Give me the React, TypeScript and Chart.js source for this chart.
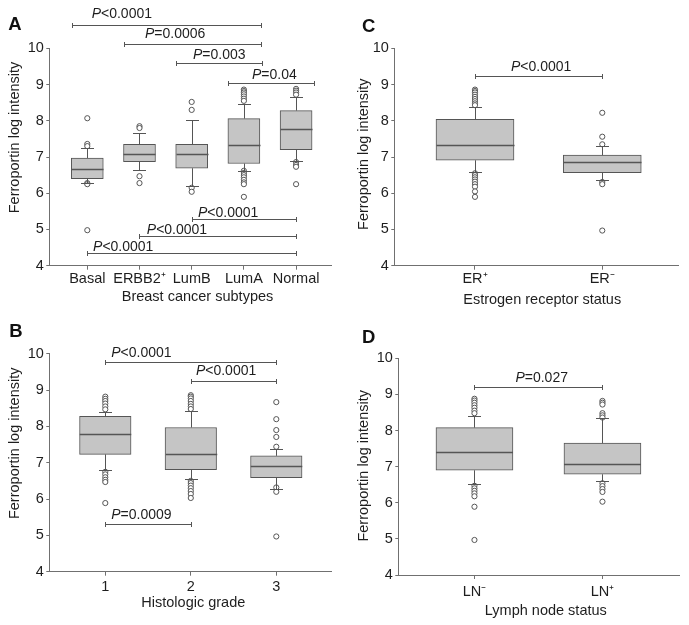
import React, { useEffect, useRef } from 'react';
import { Chart, registerables } from 'chart.js';

Chart.register(...registerables);

const FONT = "'Liberation Sans', Arial, Helvetica, sans-serif";
const TEXT = '#1e1e1e';
const LINE = '#555555';
const AXIS = '#707070';
const FILL = '#c5c5c5';

// ---------- Panel A: breast cancer subtypes ----------
const subtypeCategories = ['Basal', 'ERBB2⁺', 'LumB', 'LumA', 'Normal'];
const subtypeQ1 = [6.40, 6.87, 6.69, 6.82, 7.20];
const subtypeMedian = [6.66, 7.09, 7.08, 7.32, 7.78];
const subtypeQ3 = [6.97, 7.35, 7.35, 8.06, 8.28];
const subtypeWhiskerLow = [6.29, 6.63, 6.19, 6.61, 6.88];
const subtypeWhiskerHigh = [7.25, 7.67, 8.01, 8.47, 8.66];
const subtypeOutliers = [
  [8.07, 7.36, 7.30, 6.28, 6.25, 4.98],
  [7.85, 7.80, 6.47, 6.28],
  [8.52, 8.30, 6.15, 6.04],
  [8.86, 8.82, 8.78, 8.73, 8.67, 8.61, 8.55, 6.62, 6.56, 6.50, 6.44, 6.37, 6.30, 6.25, 5.90],
  [8.88, 8.83, 8.78, 8.72, 6.86, 6.78, 6.73, 6.25],
];
const subtypePValues = ['<0.0001', '=0.0006', '=0.003', '=0.04', '<0.0001', '<0.0001', '<0.0001'];
const subtypeBarFrom = [0.70, 1.70, 2.70, 3.70, 3, 2, 1];
const subtypeBarTo = [4.32, 4.33, 4.34, 5.34, 5, 5, 5];
const subtypeBarY = [10.64, 10.11, 9.59, 9.05, 5.28, 4.815, 4.34];
const subtypeLabelX = [1.084, 2.105, 3.025, 4.155, 3.12, 2.14, 1.11];
const subtypeLabelY = [10.95, 10.39, 9.815, 9.26, 5.44, 4.98, 4.52];

// ---------- Panel B: histologic grade ----------
const gradeCategories = ['1', '2', '3'];
const gradeQ1 = [7.23, 6.81, 6.59];
const gradeMedian = [7.79, 7.23, 6.92];
const gradeQ3 = [8.28, 7.97, 7.19];
const gradeWhiskerLow = [6.79, 6.55, 6.27];
const gradeWhiskerHigh = [8.40, 8.42, 7.39];
const gradeOutliers = [
  [8.82, 8.76, 8.70, 8.63, 8.55, 8.47, 6.75, 6.68, 6.60, 6.53, 6.47, 5.89],
  [8.86, 8.82, 8.77, 8.70, 8.62, 8.55, 8.48, 6.50, 6.44, 6.37, 6.30, 6.22, 6.14, 6.03],
  [8.67, 8.20, 7.90, 7.71, 7.44, 6.32, 6.20, 4.97],
];
const gradePValues = ['<0.0001', '<0.0001', '=0.0009'];
const gradeBarFrom = [1, 2, 1];
const gradeBarTo = [3, 3, 2];
const gradeBarY = [9.78, 9.26, 5.32];
const gradeLabelX = [1.07, 2.06, 1.07];
const gradeLabelY = [10.03, 9.51, 5.57];

// ---------- Panel C: estrogen receptor status ----------
const erCategories = ['ER⁺', 'ER⁻'];
const erQ1 = [6.91, 6.57];
const erMedian = [7.33, 6.85];
const erQ3 = [8.04, 7.05];
const erWhiskerLow = [6.58, 6.36];
const erWhiskerHigh = [8.39, 7.31];
const erOutliers = [
  [8.86, 8.82, 8.78, 8.72, 8.66, 8.60, 8.54, 8.48, 8.43, 6.55, 6.50, 6.44, 6.38, 6.32, 6.25, 6.18, 6.05, 5.90],
  [8.22, 7.56, 7.35, 6.31, 6.25, 4.97],
];
const erPValues = ['<0.0001'];
const erBarFrom = [1];
const erBarTo = [2];
const erBarY = [9.23];
const erLabelX = [1.283];
const erLabelY = [9.49];

// ---------- Panel D: lymph node status ----------
const lnCategories = ['LN⁻', 'LN⁺'];
const lnQ1 = [6.90, 6.79];
const lnMedian = [7.40, 7.07];
const lnQ3 = [8.08, 7.65];
const lnWhiskerLow = [6.51, 6.61];
const lnWhiskerHigh = [8.41, 8.34];
const lnOutliers = [
  [8.88, 8.83, 8.77, 8.70, 8.63, 8.55, 8.48, 6.47, 6.40, 6.33, 6.26, 6.18, 5.89, 4.97],
  [8.82, 8.77, 8.72, 8.48, 8.42, 8.36, 6.54, 6.46, 6.38, 6.30, 6.03],
];
const lnPValues = ['=0.027'];
const lnBarFrom = [1];
const lnBarTo = [2];
const lnBarY = [9.2];
const lnLabelX = [1.32];
const lnLabelY = [9.46];

const yMin = 4;
const yMax = 10;
const yTitleText = 'Ferroportin log intensity';

type Panel = {
  letter: string;
  categories: string[];
  q1: number[]; median: number[]; q3: number[]; lo: number[]; hi: number[];
  outliers: number[][];
  pValues: string[]; barFrom: number[]; barTo: number[]; barY: number[]; labelX: number[]; labelY: number[];
  xTitle: string;
  left: number; top: number; w: number; h: number;
  area: { l: number; r: number; t: number; b: number };
  xMin: number; xMax: number; boxWidth: number; xTickPad: number;
  yTitlePos: [number, number]; xTitlePos: [number, number]; letterPos: [number, number];
};

const panels: Panel[] = [
  {
    letter: 'A', categories: subtypeCategories, q1: subtypeQ1, median: subtypeMedian, q3: subtypeQ3,
    lo: subtypeWhiskerLow, hi: subtypeWhiskerHigh, outliers: subtypeOutliers,
    pValues: subtypePValues, barFrom: subtypeBarFrom, barTo: subtypeBarTo, barY: subtypeBarY,
    labelX: subtypeLabelX, labelY: subtypeLabelY, xTitle: 'Breast cancer subtypes',
    left: 0, top: 0, w: 345, h: 310, area: { l: 49.3, r: 331, t: 48.3, b: 265.7 },
    xMin: 0.272, xMax: 5.669, boxWidth: 32, xTickPad: 0.9,
    yTitlePos: [15, 137.5], xTitlePos: [197.5, 296.7], letterPos: [8.3, 30],
  },
  {
    letter: 'C', categories: erCategories, q1: erQ1, median: erMedian, q3: erQ3,
    lo: erWhiskerLow, hi: erWhiskerHigh, outliers: erOutliers,
    pValues: erPValues, barFrom: erBarFrom, barTo: erBarTo, barY: erBarY,
    labelX: erLabelX, labelY: erLabelY, xTitle: 'Estrogen receptor status',
    left: 345, top: 0, w: 344, h: 310, area: { l: 49.3, r: 333, t: 48.3, b: 265.7 },
    xMin: 0.366, xMax: 2.595, boxWidth: 78, xTickPad: 0.9,
    yTitlePos: [19.2, 154.2], xTitlePos: [197.2, 300], letterPos: [17, 31.7],
  },
  {
    letter: 'B', categories: gradeCategories, q1: gradeQ1, median: gradeMedian, q3: gradeQ3,
    lo: gradeWhiskerLow, hi: gradeWhiskerHigh, outliers: gradeOutliers,
    pValues: gradePValues, barFrom: gradeBarFrom, barTo: gradeBarTo, barY: gradeBarY,
    labelX: gradeLabelX, labelY: gradeLabelY, xTitle: 'Histologic grade',
    left: 0, top: 310, w: 345, h: 315, area: { l: 49.3, r: 331.7, t: 43.8, b: 261.7 },
    xMin: 0.345, xMax: 3.648, boxWidth: 51.5, xTickPad: 2.3,
    yTitlePos: [15.3, 133.3], xTitlePos: [193.3, 293.3], letterPos: [9.3, 27.3],
  },
  {
    letter: 'D', categories: lnCategories, q1: lnQ1, median: lnMedian, q3: lnQ3,
    lo: lnWhiskerLow, hi: lnWhiskerHigh, outliers: lnOutliers,
    pValues: lnPValues, barFrom: lnBarFrom, barTo: lnBarTo, barY: lnBarY,
    labelX: lnLabelX, labelY: lnLabelY, xTitle: 'Lymph node status',
    left: 345, top: 310, w: 344, h: 315, area: { l: 53.3, r: 334, t: 48.3, b: 265 },
    xMin: 0.405, xMax: 2.598, boxWidth: 77, xTickPad: 4,
    yTitlePos: [19.2, 155.8], xTitlePos: [200.8, 300.7], letterPos: [17, 32.7],
  },
];

function decorPlugin(p: Panel) {
  return {
    id: 'boxDecor' + p.letter,
    afterDatasetsDraw(chart: any) {
      const { ctx } = chart;
      const x = chart.scales.x;
      const y = chart.scales.y;
      ctx.save();
      ctx.strokeStyle = LINE;
      ctx.lineWidth = 1;
      const half = p.boxWidth / 2;
      const cap = 6.5;
      const seg = (x1: number, y1: number, x2: number, y2: number) => {
        ctx.beginPath();
        ctx.moveTo(x1, y1);
        ctx.lineTo(x2, y2);
        ctx.stroke();
      };
      p.categories.forEach((_, i) => {
        const cx = Math.round(x.getPixelForValue(i + 1)) + 0.5;
        const yq1 = y.getPixelForValue(p.q1[i]);
        const yq3 = y.getPixelForValue(p.q3[i]);
        const yLo = Math.round(y.getPixelForValue(p.lo[i])) + 0.5;
        const yHi = Math.round(y.getPixelForValue(p.hi[i])) + 0.5;
        const yMed = Math.round(y.getPixelForValue(p.median[i])) + 0.5;
        seg(cx, yq3, cx, yHi);
        seg(cx, yq1, cx, yLo);
        seg(cx - cap, yHi, cx + cap, yHi);
        seg(cx - cap, yLo, cx + cap, yLo);
        ctx.lineWidth = 1.3;
        seg(cx - half, yMed, cx + half, yMed);
        ctx.lineWidth = 1;
      });
      ctx.restore();
    },
    afterDraw(chart: any) {
      const { ctx } = chart;
      const x = chart.scales.x;
      const y = chart.scales.y;
      ctx.save();
      ctx.strokeStyle = LINE;
      ctx.lineWidth = 1;
      p.pValues.forEach((pv, i) => {
        const x1 = Math.round(x.getPixelForValue(p.barFrom[i])) + 0.5;
        const x2 = Math.round(x.getPixelForValue(p.barTo[i])) + 0.5;
        const yy = Math.round(y.getPixelForValue(p.barY[i])) + 0.5;
        ctx.beginPath();
        ctx.moveTo(x1, yy); ctx.lineTo(x2, yy);
        ctx.moveTo(x1, yy - 2.5); ctx.lineTo(x1, yy + 2.5);
        ctx.moveTo(x2, yy - 2.5); ctx.lineTo(x2, yy + 2.5);
        ctx.stroke();
        const tx = x.getPixelForValue(p.labelX[i]);
        const ty = y.getPixelForValue(p.labelY[i]);
        ctx.fillStyle = TEXT;
        ctx.textBaseline = 'middle';
        ctx.textAlign = 'left';
        ctx.font = `italic 14px ${FONT}`;
        ctx.fillText('P', tx, ty);
        const wP = ctx.measureText('P').width;
        ctx.font = `14px ${FONT}`;
        ctx.fillText(pv, tx + wP, ty);
      });
      ctx.fillStyle = TEXT;
      ctx.font = `14.5px ${FONT}`;
      ctx.textAlign = 'center';
      ctx.textBaseline = 'middle';
      ctx.fillText(p.xTitle, p.xTitlePos[0], p.xTitlePos[1]);
      ctx.save();
      ctx.translate(p.yTitlePos[0], p.yTitlePos[1]);
      ctx.rotate(-Math.PI / 2);
      ctx.fillText(yTitleText, 0, 0);
      ctx.restore();
      ctx.font = `bold 18.5px ${FONT}`;
      ctx.textAlign = 'left';
      ctx.textBaseline = 'alphabetic';
      ctx.fillStyle = '#111';
      ctx.fillText(p.letter, p.letterPos[0], p.letterPos[1]);
      ctx.restore();
    },
  };
}

function makeConfig(p: Panel): any {
  const yW = 46;
  return {
    type: 'bar',
    data: {
      datasets: [
        {
          type: 'bar',
          data: p.categories.map((_, i) => ({ x: i + 1, y: [p.q1[i], p.q3[i]] })),
          backgroundColor: FILL,
          borderColor: LINE,
          borderWidth: 1,
          borderSkipped: false,
          barThickness: p.boxWidth,
          order: 2,
        },
        {
          type: 'scatter',
          data: p.outliers.flatMap((arr, i) => arr.map((v) => ({ x: i + 1, y: v }))),
          pointRadius: 2.6,
          pointBackgroundColor: '#ffffff',
          pointBorderColor: LINE,
          pointBorderWidth: 1,
          order: 1,
        },
      ],
    },
    options: {
      animation: false,
      responsive: false,
      maintainAspectRatio: false,
      events: [],
      layout: { padding: { left: p.area.l - yW, top: p.area.t, right: p.w - p.area.r, bottom: 0 } },
      plugins: { legend: { display: false }, tooltip: { enabled: false }, title: { display: false } },
      scales: {
        x: {
          type: 'linear',
          offset: false,
          min: p.xMin,
          max: p.xMax,
          afterBuildTicks: (s: any) => { s.ticks = p.categories.map((_, i) => ({ value: i + 1 })); },
          afterFit: (s: any) => { s.height = p.h - p.area.b; },
          ticks: {
            callback: (v: any) => p.categories[Math.round(Number(v)) - 1] ?? '',
            font: { family: FONT, size: 14.5 },
            color: TEXT,
            padding: p.xTickPad,
            autoSkip: false,
            maxRotation: 0,
          },
          grid: { offset: false, drawOnChartArea: false, drawTicks: true, tickLength: 4, color: AXIS },
          border: { display: true, color: AXIS, width: 1 },
        },
        y: {
          min: yMin,
          max: yMax,
          afterFit: (s: any) => { s.width = yW; },
          ticks: { stepSize: 1, font: { family: FONT, size: 14.5 }, color: TEXT, padding: 2.5 },
          grid: { drawOnChartArea: false, drawTicks: true, tickLength: 3, color: AXIS },
          border: { display: true, color: AXIS, width: 1 },
        },
      },
    },
    plugins: [decorPlugin(p)],
  };
}

function PanelChart({ panel }: { panel: Panel }) {
  const ref = useRef<HTMLCanvasElement>(null);
  useEffect(() => {
    const chart = new Chart(ref.current as HTMLCanvasElement, makeConfig(panel));
    return () => chart.destroy();
  }, [panel]);
  return (
    <canvas
      ref={ref}
      width={panel.w}
      height={panel.h}
      style={{ position: 'absolute', left: panel.left, top: panel.top, width: panel.w, height: panel.h }}
    />
  );
}

export default function App() {
  return (
    <div style={{ position: 'absolute', left: 0, top: 0, width: 689, height: 625, background: '#ffffff', overflow: 'hidden' }}>
      {panels.map((p) => (
        <PanelChart key={p.letter} panel={p} />
      ))}
    </div>
  );
}
